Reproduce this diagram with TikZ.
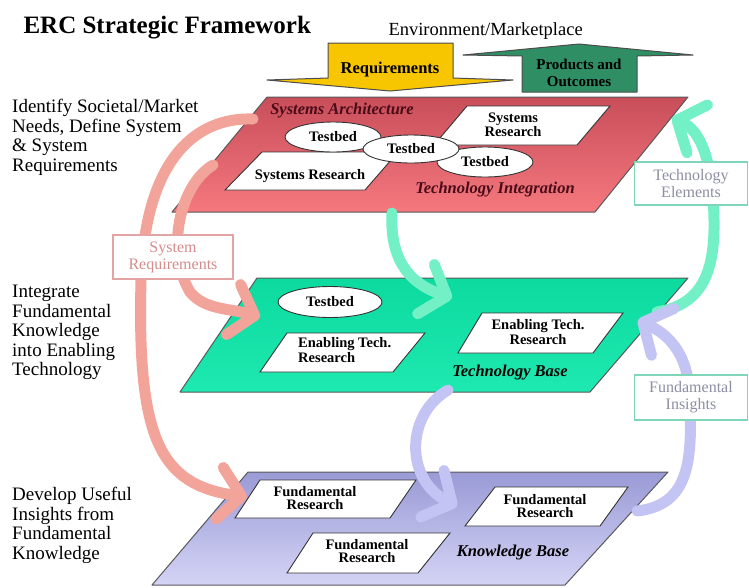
\documentclass[tikz,border=0pt]{standalone}
\usepackage{fontspec}
\setmainfont{Liberation Serif}
\usetikzlibrary{arrows.meta,shapes.geometric}

\definecolor{archtop}{HTML}{C84E5A}
\definecolor{archbot}{HTML}{F5787E}
\definecolor{techtop}{HTML}{0CDA9F}
\definecolor{techbot}{HTML}{1EE9B0}
\definecolor{knowtop}{HTML}{9A9AD6}
\definecolor{knowbot}{HTML}{D4D4F6}
\definecolor{reqyellow}{HTML}{F7C600}
\definecolor{prodgreen}{HTML}{2F8E63}
\definecolor{sysarrow}{HTML}{F2A39A}
\definecolor{elemarrow}{HTML}{74F0C6}
\definecolor{insarrow}{HTML}{C4C4F4}
\definecolor{syslabel}{HTML}{D48C8C}
\definecolor{greylabel}{HTML}{8E8EA4}
\definecolor{mintframe}{HTML}{7ED6B6}
\definecolor{pinkframe}{HTML}{E4A4A4}
\definecolor{archtext}{HTML}{4A0C18}

\tikzset{
  plane/.style={draw=black!65,line width=1pt,line join=round},
  cell/.style={fill=white,draw=black!80,line width=0.9pt},
  testbed/.style={ellipse,fill=white,draw=black!80,line width=0.9pt,inner sep=0pt,
    minimum width=96pt,minimum height=30pt,font=\fontsize{14.5}{14}\selectfont\bfseries},
  celltext/.style={align=center,inner sep=0pt,font=\fontsize{14.5}{13}\selectfont\bfseries},
  basetext/.style={inner sep=0pt,font=\fontsize{16.5}{18}\selectfont\bfseries\itshape},
  sidetext/.style={anchor=north west,align=left,inner sep=0pt,font=\fontsize{19}{19.5}\selectfont},
  bigarrow/.style={draw=black!70,line width=1pt,line join=round},
  flow/.style={line width=11pt,line cap=round,-{Straight Barb[length=22pt,width=52pt,round]}},
  tag/.style={fill=white,line width=1.2pt,align=center,inner sep=0pt,
    minimum width=113pt,minimum height=44pt,font=\fontsize{16}{17}\selectfont},
}

\begin{document}
\begin{tikzpicture}[x=1pt,y=-1pt]
\useasboundingbox (0,0) rectangle (749,587);

\coordinate (A1) at (267,97);  \coordinate (A2) at (688,97);
\coordinate (A3) at (595,212); \coordinate (A4) at (172,212);
\coordinate (B1) at (257,278); \coordinate (B2) at (688,278);
\coordinate (B3) at (590,392); \coordinate (B4) at (180,392);
\coordinate (C1) at (248,472); \coordinate (C2) at (668,472);
\coordinate (C3) at (565,585); \coordinate (C4) at (152,585);

\draw[plane,top color=archtop,bottom color=archbot] (A1)--(A2)--(A3)--(A4)--cycle;
\draw[plane,top color=techtop,bottom color=techbot] (B1)--(B2)--(B3)--(B4)--cycle;
\draw[plane,top color=knowtop,bottom color=knowbot] (C1)--(C2)--(C3)--(C4)--cycle;

\draw[cell] (262,152)--(398,152)--(365,190)--(225,190)--cycle;
\draw[cell] (467,106)--(610,106)--(577,145)--(434,145)--cycle;
\draw[cell] (287,333)--(425,333)--(393,372)--(260,372)--cycle;
\draw[cell] (482,313)--(623,313)--(593,353)--(458,353)--cycle;
\draw[cell] (260,480)--(416,480)--(390,518)--(235,518)--cycle;
\draw[cell] (313,533)--(450,533)--(418,573)--(287,573)--cycle;
\draw[cell] (495,487)--(628,487)--(600,526)--(465,526)--cycle;

\node[testbed] (tb1) at (333,137) {Testbed};
\node[testbed] (tb3) at (485,162) {Testbed};
\node[testbed,minimum height=28pt] (tb2) at (411,149) {Testbed};
\node[testbed,minimum width=104pt,minimum height=31pt] (tb4) at (330,302) {Testbed};

\node[celltext] (sr1) at (310,176) {Systems Research};
\node[celltext] (sr2) at (513,125) {Systems\\Research};
\node[celltext,align=left,anchor=west] (et1) at (298,350) {Enabling Tech.\\Research};
\node[celltext] (et2) at (538,332) {Enabling Tech.\\Research};
\node[celltext] (fr1) at (315,498) {Fundamental\\Research};
\node[celltext] (fr2) at (367,551) {Fundamental\\Research};
\node[celltext] (fr3) at (545,506) {Fundamental\\Research};

\node[basetext,text=archtext] (arch) at (342,111) {Systems Architecture};
\node[basetext,text=archtext] (integ) at (495,190) {Technology Integration};
\node[basetext] (tbase) at (510,373) {Technology Base};
\node[basetext] (kbase) at (513,553) {Knowledge Base};

\draw[bigarrow,fill=reqyellow] (328,43)--(453,43)--(453,78)--(513,80)--(390,91)--(267,80)--(328,78)--cycle;
\draw[bigarrow,fill=prodgreen] (522,92)--(637,92)--(637,56)--(693,55)--(579,44)--(463,55)--(522,56)--cycle;
\node[font=\fontsize{16.5}{18}\selectfont\bfseries] (req) at (390,70) {Requirements};
\node[font=\fontsize{15}{17}\selectfont\bfseries,align=center] (prod) at (579,73) {Products and\\Outcomes};

\coordinate (sa) at (253,119);  \coordinate (sa') at (247,497);
\coordinate (sb) at (213,165);  \coordinate (sb') at (260,317);
\coordinate (ea) at (392,213);  \coordinate (ea') at (452,298);
\coordinate (eb) at (657,312);  \coordinate (eb') at (672,118);
\coordinate (ia) at (448,390);  \coordinate (ia') at (457,506);
\coordinate (ib) at (637,511);  \coordinate (ib') at (638,320);

\draw[flow,sysarrow] (sa) .. controls (195,117) and (145,160) .. (141,280)
  .. controls (137,440) and (160,485) .. (sa');
\draw[flow,sysarrow] (sb) .. controls (180,185) and (165,250) .. (190,292)
  .. controls (205,310) and (228,308) .. (sb');
\draw[flow,elemarrow] (ea) .. controls (390,255) and (405,282) .. (ea');
\draw[flow,elemarrow] (eb) .. controls (700,305) and (715,275) .. (714,220)
  .. controls (713,160) and (700,130) .. (eb');
\draw[flow,insarrow] (ia) .. controls (405,415) and (405,480) .. (ia');
\draw[flow,insarrow] (ib) .. controls (690,505) and (692,460) .. (690,400)
  .. controls (689,350) and (665,333) .. (ib');

\node[tag,draw=pinkframe,text=syslabel,minimum width=120pt] (sysreq) at (173,257) {System\\Requirements};
\node[tag,draw=mintframe,text=greylabel,minimum height=43pt] (techel) at (691,183.5) {Technology\\Elements};
\node[tag,draw=mintframe,text=greylabel,minimum height=45pt] (fundin) at (691,397.5) {Fundamental\\Insights};

\node[anchor=base west,font=\fontsize{25}{28}\selectfont\bfseries] (title) at (20,33) {ERC Strategic Framework};
\node[anchor=base west,font=\fontsize{18.5}{20}\selectfont] (env) at (385,35) {Environment/Marketplace};
\node[sidetext] (identify) at (12,99) {Identify Societal/Market\\Needs, Define System\\\& System\\Requirements};
\node[sidetext] (integrate) at (12,285) {Integrate\\Fundamental\\Knowledge\\into Enabling\\Technology};
\node[sidetext] (develop) at (12,487) {Develop Useful\\Insights from\\Fundamental\\Knowledge};

\end{tikzpicture}
\end{document}
